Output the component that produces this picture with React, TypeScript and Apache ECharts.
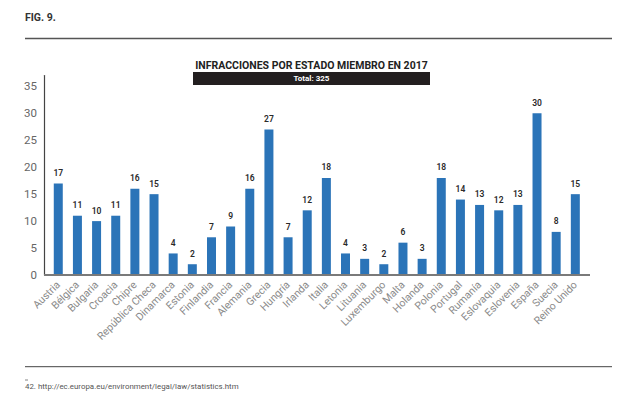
import React, { useEffect, useRef } from "react";
import * as echarts from "echarts";

const categories = [
  "Austria", "Bélgica", "Bulgaria", "Croacia", "Chipre", "República Checa",
  "Dinamarca", "Estonia", "Finlandia", "Francia", "Alemania", "Grecia",
  "Hungría", "Irlanda", "Italia", "Letonia", "Lituania", "Luxemburgo",
  "Malta", "Holanda", "Polonia", "Portugal", "Rumanía", "Eslovaquia",
  "Eslovenia", "España", "Suecia", "Reino Unido",
];
const infracciones = [
  17, 11, 10, 11, 16, 15, 4, 2, 7, 9, 16, 27, 7, 12, 18, 4, 3, 2, 6, 3,
  18, 14, 13, 12, 13, 30, 8, 15,
];
const yTicks = [0, 5, 10, 15, 20, 25, 30, 35];
const figLabel = "FIG. 9.";
const chartTitle = "INFRACCIONES POR ESTADO MIEMBRO EN 2017";
const totalLabel = "Total: 325";
const footnote = "42. http://ec.europa.eu/environment/legal/law/statistics.htm";

export default function App() {
  const ref = useRef<HTMLDivElement>(null);
  useEffect(() => {
    if (!ref.current) return;
    const chart = echarts.init(ref.current, null, { renderer: "svg" });
    const font = "Roboto, 'Noto Sans', sans-serif";
    chart.setOption({
      animation: false,
      backgroundColor: "#ffffff",
      grid: { left: 48.7, top: 75.6, width: 536.2, height: 199.4, containLabel: false },
      xAxis: {
        type: "category",
        data: categories,
        boundaryGap: true,
        axisLine: { show: true, lineStyle: { color: "#7a7a7a", width: 2 } },
        axisTick: { show: false },
        axisLabel: {
          interval: 0,
          rotate: 45,
          margin: 8,
          color: "#8a8a8a",
          fontSize: 10.5,
          fontFamily: font,
        },
      },
      yAxis: {
        type: "value",
        min: 0,
        max: 37,
        interval: 5,
        offset: 4.7,
        axisLine: { show: true, lineStyle: { color: "#444", width: 1.2 } },
        axisTick: { show: false },
        splitLine: { show: false },
        axisLabel: {
          margin: 7,
          color: "#666",
          fontSize: 11.5,
          fontFamily: font,
          formatter: (v: number) => (yTicks.includes(v) ? String(v) : ""),
        },
      },
      series: [
        {
          type: "bar",
          data: infracciones,
          barWidth: 9,
          itemStyle: { color: "#2b74b8" },
          label: {
            show: true,
            position: "top",
            distance: 6,
            color: "#2a2a2a",
            fontSize: 8.5,
            fontWeight: 600,
            fontFamily: font,
          },
        },
      ],
      graphic: [
        {
          type: "text",
          left: 25,
          top: 11.5,
          style: { text: figLabel, fill: "#333", font: `bold 10.5px ${font}` },
        },
        {
          type: "line",
          shape: { x1: 25, y1: 38.5, x2: 612, y2: 38.5 },
          style: { stroke: "#555", lineWidth: 1.3 },
        },
        {
          type: "text",
          x: 311.5,
          y: 65,
          style: {
            text: chartTitle,
            fill: "#222",
            font: `bold 10.5px ${font}`,
            align: "center",
            verticalAlign: "middle",
          },
        },
        {
          type: "rect",
          shape: { x: 193, y: 72, width: 237, height: 13 },
          style: { fill: "#231f20" },
        },
        {
          type: "text",
          x: 311.5,
          y: 78.5,
          style: {
            text: totalLabel,
            fill: "#ffffff",
            font: `bold 8px ${font}`,
            align: "center",
            verticalAlign: "middle",
          },
        },
        {
          type: "line",
          z: 10,
          shape: { x1: 44, y1: 275, x2: 590, y2: 275 },
          style: { stroke: "#7a7a7a", lineWidth: 2 },
        },
        {
          type: "line",
          shape: { x1: 25, y1: 366.7, x2: 612, y2: 366.7 },
          style: { stroke: "#444", lineWidth: 1 },
        },
        {
          type: "line",
          shape: { x1: 25, y1: 380, x2: 28, y2: 380 },
          style: { stroke: "#666", lineWidth: 0.8 },
        },
        {
          type: "text",
          left: 25,
          top: 382,
          style: { text: footnote, fill: "#555", font: `7.9px ${font}` },
        },
      ],
    });
    return () => chart.dispose();
  }, []);
  return (
    <div
      ref={ref}
      style={{ position: "absolute", left: 0, top: 0, width: 638, height: 404 }}
    />
  );
}
